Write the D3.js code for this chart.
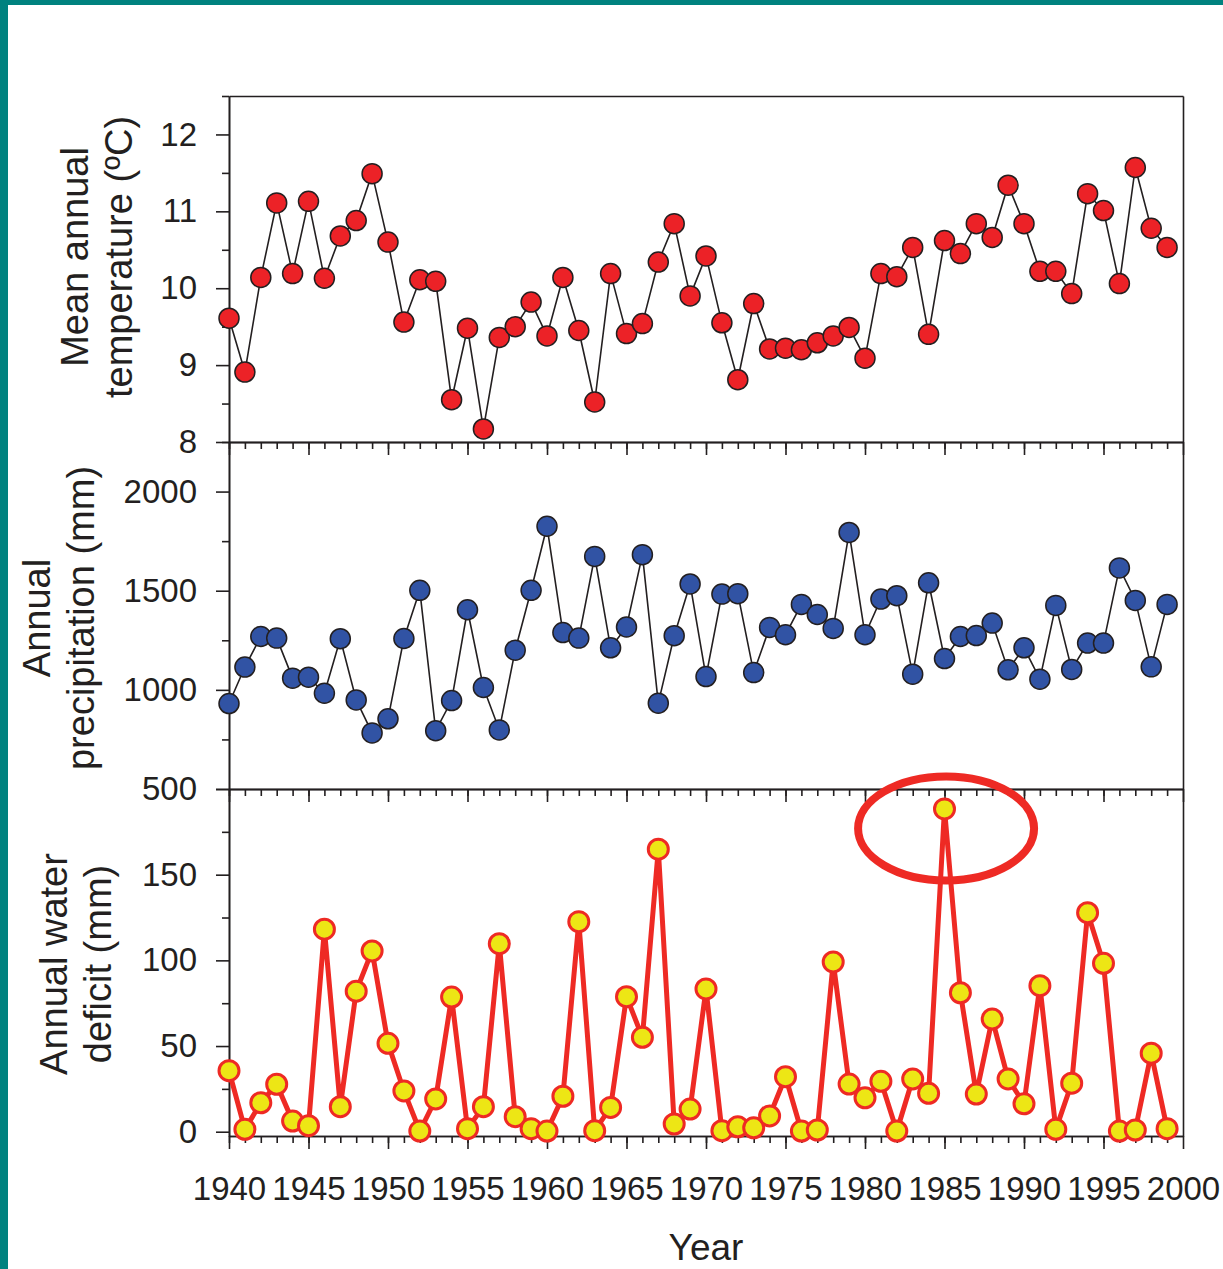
<!DOCTYPE html>
<html>
<head>
<meta charset="utf-8">
<script src="https://cdn.jsdelivr.net/npm/d3@7"></script>
<style>
  body { margin: 0; background: #fff; }
  svg { display: block; font-family: "Liberation Sans", Arial, sans-serif; }
  .axis path, .axis line { stroke: #231f20; stroke-width: 1.6; }
  .axis text { fill: #231f20; font-size: 33px; font-family: "Liberation Sans", Arial, sans-serif; }
  .title { fill: #231f20; font-size: 38px; }
</style>
</head>
<body>
<svg width="1223" height="1269"></svg>
<script>
// years on the x axis
var years = d3.range(1940, 2000);

// mean annual temperature (ºC)
var temperature = [9.61, 8.91, 10.14, 11.11, 10.19, 11.13, 10.13, 10.68, 10.88, 11.49,
  10.60, 9.56, 10.11, 10.09, 8.55, 9.48, 8.17, 9.36, 9.50, 9.82,
  9.38, 10.14, 9.45, 8.52, 10.19, 9.41, 9.54, 10.34, 10.84, 9.90,
  10.42, 9.55, 8.81, 9.80, 9.21, 9.22, 9.20, 9.29, 9.38, 9.49,
  9.09, 10.19, 10.15, 10.53, 9.40, 10.62, 10.45, 10.84, 10.66, 11.34,
  10.84, 10.22, 10.22, 9.93, 11.23, 11.01, 10.06, 11.57, 10.78, 10.53];

// annual precipitation (mm)
var precipitation = [931, 1115, 1269, 1261, 1059, 1064, 983, 1258, 949, 783,
  854, 1259, 1502, 794, 946, 1404, 1012, 798, 1200, 1502,
  1825, 1289, 1261, 1673, 1212, 1317, 1682, 933, 1273, 1534,
  1067, 1483, 1485, 1087, 1315, 1278, 1431, 1380, 1310, 1794,
  1278, 1458, 1475, 1079, 1540, 1158, 1269, 1274, 1337, 1101,
  1212, 1054, 1426, 1103, 1236, 1236, 1615, 1451, 1116, 1431];

// annual water deficit (mm)
var deficit = [35.6, 1.4, 16.9, 27.7, 6.2, 3.5, 118.2, 14.6, 82.0, 105.5,
  51.6, 23.8, 0.4, 19.1, 78.6, 1.8, 14.6, 109.7, 8.8, 1.8,
  0.4, 20.7, 122.6, 0.6, 14.2, 78.8, 55.1, 164.9, 4.5, 13.2,
  83.3, 0.6, 2.9, 2.3, 9.2, 32.1, 0.4, 1.0, 99.1, 27.8,
  19.8, 29.4, 0.4, 30.8, 22.4, 188.4, 81.1, 22.0, 65.8, 30.8,
  16.3, 85.2, 1.4, 28.3, 127.8, 98.3, 0.4, 1.0, 45.8, 1.8];

// tick values
var xMajorTicks = [1940, 1945, 1950, 1955, 1960, 1965, 1970, 1975, 1980, 1985, 1990, 1995, 2000];
var tempMajor = [8, 9, 10, 11, 12];
var tempMinor = [8.5, 9.5, 10.5, 11.5, 12.5];
var precMajor = [500, 1000, 1500, 2000];
var precMinor = [750, 1250, 1750, 2250];
var defMajor = [0, 50, 100, 150, 200];
var defMinor = [25, 75, 125, 175];

// highlighted drought year
var highlightYear = 1985.1;
var highlightValue = 177;

var svg = d3.select("svg");
var left = 229, right = 1183;

// teal frame on left and top
svg.append("rect").attr("x", 0).attr("y", 0).attr("width", 8).attr("height", 1269).attr("fill", "#00827f");
svg.append("rect").attr("x", 0).attr("y", 0).attr("width", 1223).attr("height", 5).attr("fill", "#00827f");

var x = d3.scaleLinear().domain([1940, 2000]).range([left, right]);

var panels = [
  { values: temperature, domain: [8, 12.5], top: 96, bottom: 442, major: tempMajor, minor: tempMinor,
    labels: tempMajor, fill: "#ec2227", stroke: "#231f20", sw: 1.5, r: 10, lineColor: "#231f20", lw: 1.6,
    title: ["Mean annual", "temperature (ºC)"], tx: 88, ty: 257 },
  { values: precipitation, domain: [500, 2250], top: 442, bottom: 789, major: precMajor, minor: precMinor,
    labels: precMajor, fill: "#3153a4", stroke: "#231f20", sw: 1.5, r: 10, lineColor: "#231f20", lw: 1.6,
    title: ["Annual", "precipitation (mm)"], tx: 50, ty: 618 },
  { values: deficit, domain: [-2.5, 200], top: 789, bottom: 1136, major: defMajor, minor: defMinor,
    labels: [0, 50, 100, 150], fill: "#ede615", stroke: "#ee2a24", sw: 3, r: 10, lineColor: "#ee2a24", lw: 5,
    title: ["Annual water", "deficit (mm)"], tx: 67, ty: 964 }
];

panels.forEach(function(p, i) {
  var y = d3.scaleLinear().domain(p.domain).range([p.bottom, p.top]);
  p.y = y;

  // frame: top and right lines
  svg.append("g").attr("class", "axis")
    .attr("transform", "translate(0," + p.top + ")")
    .call(d3.axisTop(x).tickValues([]).tickSizeOuter(0));
  svg.append("g").attr("class", "axis")
    .attr("transform", "translate(" + right + ",0)")
    .call(d3.axisRight(y).tickValues([]).tickSizeOuter(0));

  // y axis
  svg.append("g").attr("class", "axis")
    .attr("transform", "translate(" + left + ",0)")
    .call(d3.axisLeft(y).tickValues(p.minor).tickSize(7).tickFormat("").tickSizeOuter(0));
  svg.append("g").attr("class", "axis")
    .attr("transform", "translate(" + left + ",0)")
    .call(d3.axisLeft(y).tickValues(p.major).tickSize(13).tickPadding(19).tickSizeOuter(0)
      .tickFormat(function(d) { return p.labels.indexOf(d) >= 0 ? d : ""; }));

  // x axis
  svg.append("g").attr("class", "axis")
    .attr("transform", "translate(0," + p.bottom + ")")
    .call(d3.axisBottom(x).tickValues(years).tickSize(7).tickFormat("").tickSizeOuter(0));
  svg.append("g").attr("class", "axis")
    .attr("transform", "translate(0," + p.bottom + ")")
    .call(d3.axisBottom(x).tickValues(xMajorTicks).tickSize(13).tickPadding(28).tickSizeOuter(0)
      .tickFormat(i == 2 ? d3.format("d") : ""));

  // axis title, two lines rotated
  var t = svg.append("text").attr("class", "title")
    .attr("text-anchor", "middle")
    .attr("transform", "translate(" + p.tx + "," + p.ty + ") rotate(-90)");
  p.title.forEach(function(s, j) {
    t.append("tspan").attr("x", 0).attr("y", j * 44).text(s);
  });
});

// highlight ellipse in the deficit panel
var pd = panels[2];
svg.append("ellipse")
  .attr("cx", x(highlightYear)).attr("cy", pd.y(highlightValue))
  .attr("rx", 88).attr("ry", 52)
  .attr("fill", "none").attr("stroke", "#ee2a24").attr("stroke-width", 8);

// series lines and markers
panels.forEach(function(p) {
  var pts = years.map(function(yr, k) { return [yr, p.values[k]]; });
  var line = d3.line().x(function(d) { return x(d[0]); }).y(function(d) { return p.y(d[1]); });
  svg.append("path").datum(pts)
    .attr("d", line)
    .attr("fill", "none")
    .attr("stroke", p.lineColor)
    .attr("stroke-width", p.lw)
    .attr("stroke-linejoin", "miter");
  svg.append("g").selectAll("circle")
    .data(pts)
    .enter().append("circle")
    .attr("cx", function(d) { return x(d[0]); })
    .attr("cy", function(d) { return p.y(d[1]); })
    .attr("r", p.r)
    .attr("fill", p.fill)
    .attr("stroke", p.stroke)
    .attr("stroke-width", p.sw);
});

svg.append("text").attr("class", "title")
  .attr("x", (left + right) / 2).attr("y", 1260)
  .attr("text-anchor", "middle")
  .style("font-size", "37px")
  .text("Year");
</script>
</body>
</html>
